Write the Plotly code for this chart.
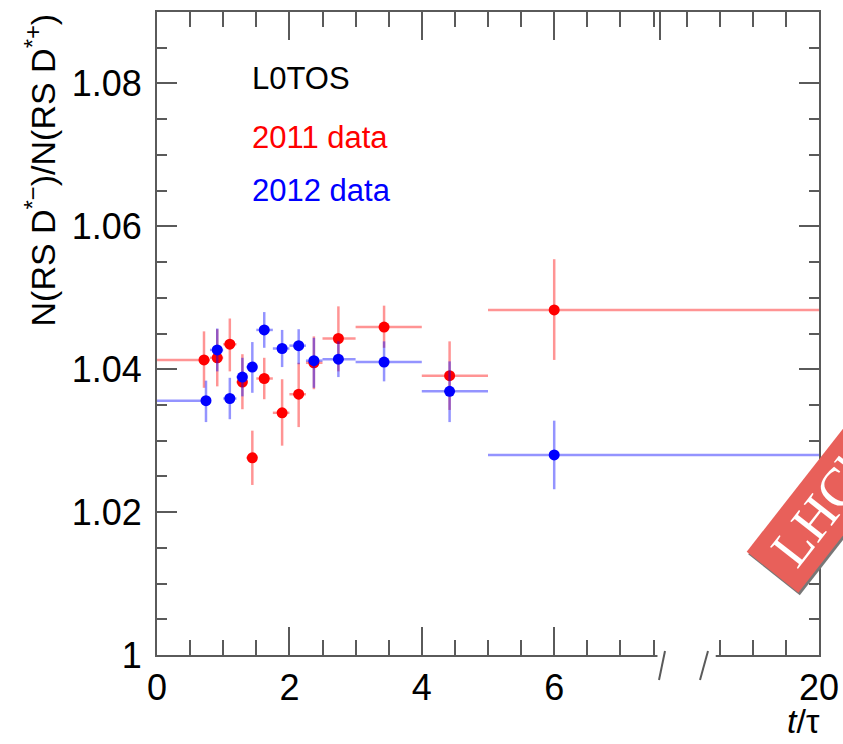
import plotly.graph_objects as go

# ---------------- data ----------------
bin_lo = [0.0, 0.8, 1.0, 1.2, 1.35, 1.5, 1.75, 2.0, 2.25, 2.5, 3.0, 4.0, 5.0]
bin_hi = [0.8, 1.0, 1.2, 1.35, 1.5, 1.75, 2.0, 2.25, 2.5, 3.0, 4.0, 5.0, 20.0]

x_2011 = [0.71, 0.91, 1.10, 1.29, 1.44, 1.62, 1.89, 2.14, 2.37, 2.74, 3.43, 4.42, 6.0]
y_2011 = [1.0413, 1.0416, 1.0435, 1.0382, 1.0276, 1.0387, 1.0339, 1.0365, 1.0409, 1.0443, 1.0459, 1.0391, 1.0483]
eyp_2011 = [0.0040, 0.0040, 0.0036, 0.0039, 0.0038, 0.0029, 0.0047, 0.0044, 0.0037, 0.0045, 0.0030, 0.0048, 0.0071]
eym_2011 = [0.0039, 0.0040, 0.0038, 0.0038, 0.0038, 0.0029, 0.0046, 0.0046, 0.0037, 0.0046, 0.0029, 0.0048, 0.0070]

x_2012 = [0.74, 0.91, 1.10, 1.29, 1.44, 1.62, 1.89, 2.14, 2.37, 2.74, 3.43, 4.42, 6.0]
y_2012 = [1.0356, 1.0427, 1.0359, 1.0389, 1.0403, 1.0455, 1.0429, 1.0433, 1.0412, 1.0414, 1.0410, 1.0369, 1.0280]
eyp_2012 = [0.0028, 0.0030, 0.0029, 0.0027, 0.0035, 0.0025, 0.0026, 0.0023, 0.0032, 0.0025, 0.0029, 0.0042, 0.0048]
eym_2012 = [0.0030, 0.0030, 0.0029, 0.0027, 0.0036, 0.0025, 0.0026, 0.0026, 0.0038, 0.0025, 0.0027, 0.0043, 0.0048]

x_tickvals = [0, 2, 4, 6, 8, 20]
x_ticktext = ["0", "2", "4", "6", " ", "20"]
y_tickvals = [1.00, 1.02, 1.04, 1.06, 1.08]
y_ticktext = ["1", "1.02", "1.04", "1.06", "1.08"]

# broken x axis: linear up to 7.5, then compressed so that 20 sits at the frame edge
BREAK = 7.5
X_MAX = 20.0
DISP_MAX = 10.0


def disp(t):
    if t <= BREAK:
        return t
    return BREAK + (t - BREAK) * (DISP_MAX - BREAK) / (X_MAX - BREAK)


def make_trace(xs, ys, eyp, eym, color, bar_color, name):
    xd = [disp(v) for v in xs]
    exp_ = [disp(h) - d for h, d in zip(bin_hi, xd)]
    exm_ = [d - disp(l) for l, d in zip(bin_lo, xd)]
    return go.Scatter(
        x=xd, y=ys, mode="markers", name=name,
        marker=dict(color=color, size=11, line=dict(width=0)),
        error_x=dict(type="data", symmetric=False, array=exp_, arrayminus=exm_,
                     color=bar_color, thickness=2.5, width=0),
        error_y=dict(type="data", symmetric=False, array=eyp, arrayminus=eym,
                     color=bar_color, thickness=2.5, width=0),
        showlegend=False, cliponaxis=True,
    )


fig = go.Figure()
fig.add_trace(make_trace(x_2011, y_2011, eyp_2011, eym_2011, "#ff0000", "rgba(255,0,0,0.42)", "2011 data"))
fig.add_trace(make_trace(x_2012, y_2012, eyp_2012, eym_2012, "#0000ff", "rgba(0,0,255,0.42)", "2012 data"))

FONT = "Liberation Sans, Arial, Helvetica, sans-serif"
AXC = "#5a5a5a"

fig.update_layout(
    width=843, height=744,
    margin=dict(l=157, r=24, t=12, b=89),
    plot_bgcolor="white", paper_bgcolor="white",
    font=dict(family=FONT, color="black", size=34),
    xaxis=dict(
        range=[0, DISP_MAX], automargin=False,
        tickvals=[disp(v) for v in x_tickvals], ticktext=x_ticktext,
        ticks="inside", ticklen=28, tickwidth=2, tickcolor=AXC,
        minor=dict(dtick=0.5, ticks="inside", ticklen=15, tickwidth=2, tickcolor=AXC, showgrid=False),
        showline=True, linecolor=AXC, linewidth=2, mirror="ticks",
        showgrid=False, zeroline=False,
        tickfont=dict(size=36, family=FONT), ticklabelstandoff=0,
    ),
    yaxis=dict(
        range=[1.0, 1.09], automargin=False,
        tickvals=y_tickvals, ticktext=y_ticktext,
        ticks="inside", ticklen=20, tickwidth=2, tickcolor=AXC,
        minor=dict(dtick=0.005, ticks="inside", ticklen=10, tickwidth=2, tickcolor=AXC, showgrid=False),
        showline=True, linecolor=AXC, linewidth=2, mirror="ticks",
        showgrid=False, zeroline=False,
        tickfont=dict(size=36, family=FONT), ticklabelstandoff=6,
    ),
)

PW, PH, PL, PB = 662.0, 643.0, 157.0, 655.0


def px(xp):
    return (xp - PL) / PW


def py(yp):
    return (PB - yp) / PH


shapes = []
# axis break: blank out bottom axis between the two slashes
shapes.append(dict(type="rect", xref="x", yref="paper", x0=7.56, x1=8.44,
                   y0=-0.006, y1=py(624), fillcolor="white", line=dict(width=0), layer="above"))
for (xa, ya, xb, yb) in [(665, 651, 659, 680), (708, 651, 700, 680)]:
    shapes.append(dict(type="line", xref="paper", yref="paper",
                       x0=px(xa), y0=py(ya), x1=px(xb), y1=py(yb),
                       line=dict(color=AXC, width=2), layer="above"))

# LHCb logo (rotated band partially outside the page)
ax_, ay_ = 746.7, 551.7
bx_, by_ = 798.3, 592.7
ux, uy = 0.6165, -0.7875
L = 320
shadow = [(ax_ + 1.5, ay_ + 2.5), (bx_ + 1.5, by_ + 2.5),
          (bx_ + 1.5 + L * ux, by_ + 2.5 + L * uy), (ax_ + 1.5 + L * ux, ay_ + 2.5 + L * uy)]
band = [(ax_, ay_), (bx_, by_), (bx_ + L * ux, by_ + L * uy), (ax_ + L * ux, ay_ + L * uy)]


def path_of(pts):
    s = "M " + " L ".join(f"{px(a):.5f},{py(b):.5f}" for a, b in pts) + " Z"
    return s


shapes.append(dict(type="path", xref="paper", yref="paper", path=path_of(shadow),
                   fillcolor="#777777", line=dict(width=0), layer="above"))
shapes.append(dict(type="path", xref="paper", yref="paper", path=path_of(band),
                   fillcolor="#e8605a", line=dict(width=0), layer="above"))

annotations = []
cx, cy = (ax_ + bx_) / 2 + 84 * ux, (ay_ + by_) / 2 + 84 * uy
annotations.append(dict(text="LHCb", x=px(cx), y=py(cy), xref="paper", yref="paper",
                        xanchor="center", yanchor="middle", textangle=-52, showarrow=False,
                        font=dict(family="Liberation Serif, DejaVu Serif, serif", size=54, color="white")))

annotations.append(dict(text="L0TOS", x=px(250), y=py(78), xref="paper", yref="paper",
                        xanchor="left", yanchor="middle", showarrow=False,
                        font=dict(size=31, color="black", family=FONT)))
annotations.append(dict(text="2011 data", x=px(250), y=py(137.5), xref="paper", yref="paper",
                        xanchor="left", yanchor="middle", showarrow=False,
                        font=dict(size=31, color="#ff0000", family=FONT)))
annotations.append(dict(text="2012 data", x=px(250), y=py(190), xref="paper", yref="paper",
                        xanchor="left", yanchor="middle", showarrow=False,
                        font=dict(size=31, color="#0000ff", family=FONT)))

annotations.append(dict(text="<i>t</i>/τ", x=px(822), y=py(721), xref="paper", yref="paper",
                        xanchor="right", yanchor="middle", showarrow=False,
                        font=dict(size=34, color="black", family=FONT)))
annotations.append(dict(text="N(RS D<sup>*−</sup>)/N(RS D<sup>*+</sup>)", x=px(40), y=py(12),
                        xref="paper", yref="paper", xanchor="center", yanchor="top",
                        textangle=-90, showarrow=False,
                        font=dict(size=34, color="black", family=FONT)))

fig.update_layout(shapes=shapes, annotations=annotations)
fig.write_html("out.html")
